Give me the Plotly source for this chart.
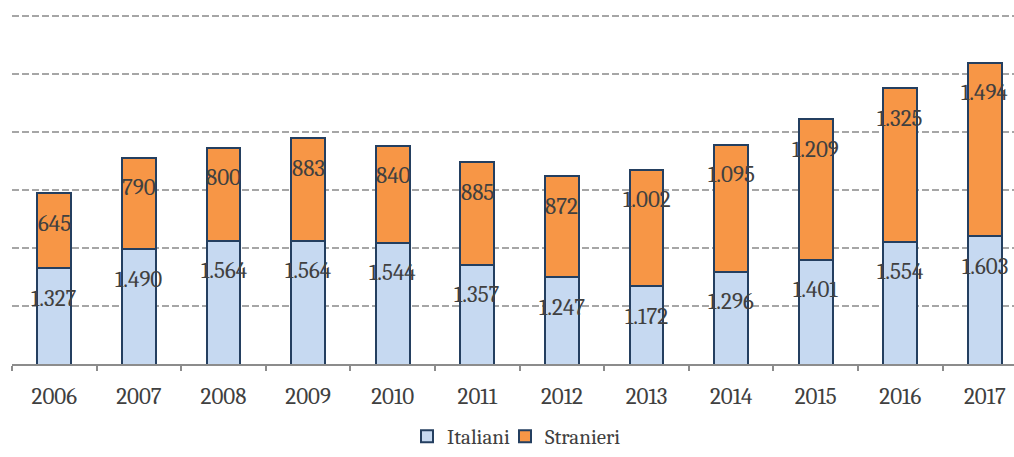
import plotly.graph_objects as go

years = ["2006", "2007", "2008", "2009", "2010", "2011", "2012", "2013", "2014", "2015", "2016", "2017"]
italiani = [1327, 1490, 1564, 1564, 1544, 1357, 1247, 1172, 1296, 1401, 1554, 1603]
stranieri = [645, 790, 800, 883, 840, 885, 872, 1002, 1095, 1209, 1325, 1494]

FONT = "Cambria, Liberation Serif, serif"
TXT = "#404040"
OUTLINE = "#243f60"

def fmt(v):
    return f"{v:,}".replace(",", ".")

fig = go.Figure()
fig.add_trace(go.Bar(x=years, y=italiani, name="Italiani", width=0.4, legend="legend",
                     marker=dict(color="#c6d9f1", line=dict(color=OUTLINE, width=2))))
fig.add_trace(go.Bar(x=years, y=stranieri, name="Stranieri", width=0.4, legend="legend2",
                     marker=dict(color="#f79646", line=dict(color=OUTLINE, width=2))))

# data labels: placed at each segment's top (category index on the x axis)
for i, (a, b) in enumerate(zip(italiani, stranieri)):
    fig.add_annotation(x=i, y=a, xref="x", yref="y", text=fmt(a), showarrow=False,
                       yshift=-30, font=dict(family=FONT, size=23, color=TXT))
    fig.add_annotation(x=i, y=a + b, xref="x", yref="y", text=fmt(b), showarrow=False,
                       yshift=-30, font=dict(family=FONT, size=23, color=TXT))

legend_common = dict(orientation="h", xanchor="left", yref="container",
                     y=0, yanchor="bottom", bgcolor="rgba(0,0,0,0)",
                     font=dict(family=FONT, size=21, color=TXT))

fig.update_layout(
    width=1014, height=457,
    margin=dict(l=12, r=0, t=15, b=93),
    barmode="stack",
    paper_bgcolor="white", plot_bgcolor="white",
    font=dict(family=FONT, size=22, color=TXT),
    showlegend=True,
    legend=dict(x=(407 - 12) / 1002, **legend_common),
    legend2=dict(x=(505 - 12) / 1002, **legend_common),
)
fig.update_xaxes(type="category", range=[-0.5, 11.344], tickson="boundaries",
                 ticks="outside", ticklen=5, tickwidth=2, tickcolor="#8c8c8c",
                 showline=True, linecolor="#8c8c8c", linewidth=2, ticklabelstandoff=10,
                 showgrid=False, tickfont=dict(family=FONT, size=23, color=TXT))
fig.update_yaxes(range=[500, 3510], tick0=500, dtick=500, showticklabels=False,
                 showgrid=True, gridcolor="#a6a6a6", gridwidth=2, griddash="7px,3px",
                 zeroline=False, showline=False, ticks="")

fig.write_html("out.html", config={"displayModeBar": False},
               post_script="document.body.style.margin='0';document.body.style.overflow='hidden';")
